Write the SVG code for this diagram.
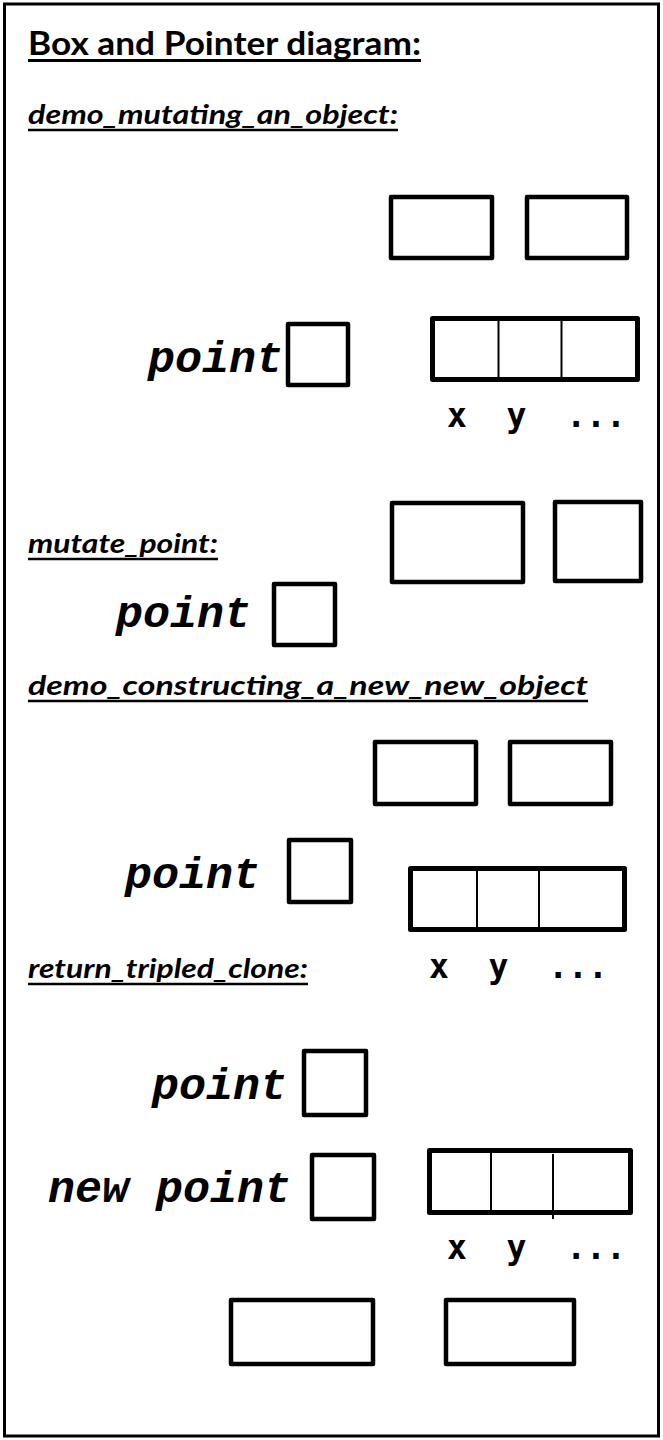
<svg xmlns="http://www.w3.org/2000/svg" width="663" height="1440" viewBox="0 0 663 1440">
<style>
.frame{fill:none;stroke:#000;stroke-width:3}
.box{fill:#fff;stroke:#000;stroke-width:4.5;stroke-linejoin:round}
.mbox{fill:#fff;stroke:#000;stroke-width:5;stroke-linejoin:round}
.div{stroke:#000;stroke-width:2}
.ul{stroke:#000;stroke-width:2.5}
.title{font-family:Lato,"Open Sans",sans-serif;font-weight:bold;font-size:33px;fill:#000}
.sub{font-family:Lato,"Open Sans",sans-serif;font-weight:bold;font-style:italic;font-size:26px;fill:#000}
.var{font-family:"Liberation Mono","Courier New",monospace;font-weight:bold;font-style:italic;font-size:45px;fill:#000}
.lbl{font-family:"DejaVu Sans Mono",monospace;font-weight:bold;font-size:33px;fill:#000}
</style>
<rect width="663" height="1440" fill="#fff"/>
<rect class="frame" x="4.5" y="4" width="654" height="1432"/>

<g id="title">
<text class="title" x="28" y="55" textLength="393" lengthAdjust="spacingAndGlyphs">Box and Pointer diagram:</text>
<line class="ul" x1="28" y1="60.5" x2="421" y2="60.5" style="stroke-width:3"/>
</g>

<g id="heading-demo-mutating">
<text class="sub" x="28" y="124" textLength="370" lengthAdjust="spacingAndGlyphs">demo_mutating_an_object:</text>
<line class="ul" x1="28" y1="130" x2="398" y2="130"/>
</g>

<g id="s1-box-a"><rect class="box" x="391" y="197" width="101" height="61"/></g>
<g id="s1-box-b"><rect class="box" x="527" y="197" width="100" height="61"/></g>
<g id="s1-point">
<text class="var" x="148" y="372">point</text>
<rect class="box" x="288" y="324" width="60" height="61"/>
</g>
<g id="s1-object">
<rect class="mbox" x="432.5" y="318.5" width="205" height="61"/>
<line class="div" x1="498.5" y1="318.5" x2="498.5" y2="379.5"/>
<line class="div" x1="561.5" y1="318.5" x2="561.5" y2="379.5"/>
<text class="lbl" x="447" y="427" xml:space="preserve">x  y  ...</text>
</g>

<g id="heading-mutate-point">
<text class="sub" x="28" y="553" textLength="190" lengthAdjust="spacingAndGlyphs">mutate_point:</text>
<line class="ul" x1="28" y1="559" x2="218" y2="559"/>
</g>
<g id="s2-box-a"><rect class="box" x="392" y="503" width="131" height="79"/></g>
<g id="s2-box-b"><rect class="box" x="555" y="502" width="86" height="79"/></g>
<g id="s2-point">
<text class="var" x="116" y="627">point</text>
<rect class="box" x="274" y="584" width="61" height="61"/>
</g>

<g id="heading-demo-constructing">
<text class="sub" x="28" y="695" textLength="560" lengthAdjust="spacingAndGlyphs">demo_constructing_a_new_new_object</text>
<line class="ul" x1="28" y1="701" x2="588" y2="701"/>
</g>
<g id="s3-box-a"><rect class="box" x="375" y="742" width="101" height="62"/></g>
<g id="s3-box-b"><rect class="box" x="510" y="742" width="101" height="62"/></g>
<g id="s3-point">
<text class="var" x="125" y="888">point</text>
<rect class="box" x="289" y="840" width="62" height="62"/>
</g>
<g id="s3-object">
<rect class="mbox" x="410.5" y="868.5" width="214" height="61"/>
<line class="div" x1="477" y1="868.5" x2="477" y2="929.5"/>
<line class="div" x1="539" y1="868.5" x2="539" y2="929.5"/>
<text class="lbl" x="429" y="978" xml:space="preserve">x  y  ...</text>
</g>

<g id="heading-return-tripled-clone">
<text class="sub" x="28" y="978" textLength="280" lengthAdjust="spacingAndGlyphs">return_tripled_clone:</text>
<line class="ul" x1="28" y1="984" x2="308" y2="984"/>
</g>
<g id="s4-point">
<text class="var" x="152" y="1099">point</text>
<rect class="box" x="304" y="1051" width="62" height="64"/>
</g>
<g id="s4-new-point">
<text class="var" x="48" y="1202">new point</text>
<rect class="box" x="312" y="1155" width="62" height="64"/>
</g>
<g id="s4-object">
<rect class="mbox" x="429.5" y="1150.5" width="201" height="62"/>
<line class="div" x1="491" y1="1150.5" x2="491" y2="1212.5"/>
<line class="div" x1="553" y1="1154" x2="553" y2="1219"/>
<text class="lbl" x="447" y="1259" xml:space="preserve">x  y  ...</text>
</g>
<g id="s4-box-a"><rect class="box" x="231" y="1300" width="142" height="64"/></g>
<g id="s4-box-b"><rect class="box" x="446" y="1300" width="128" height="64"/></g>

<g id="connectors"></g>
</svg>
